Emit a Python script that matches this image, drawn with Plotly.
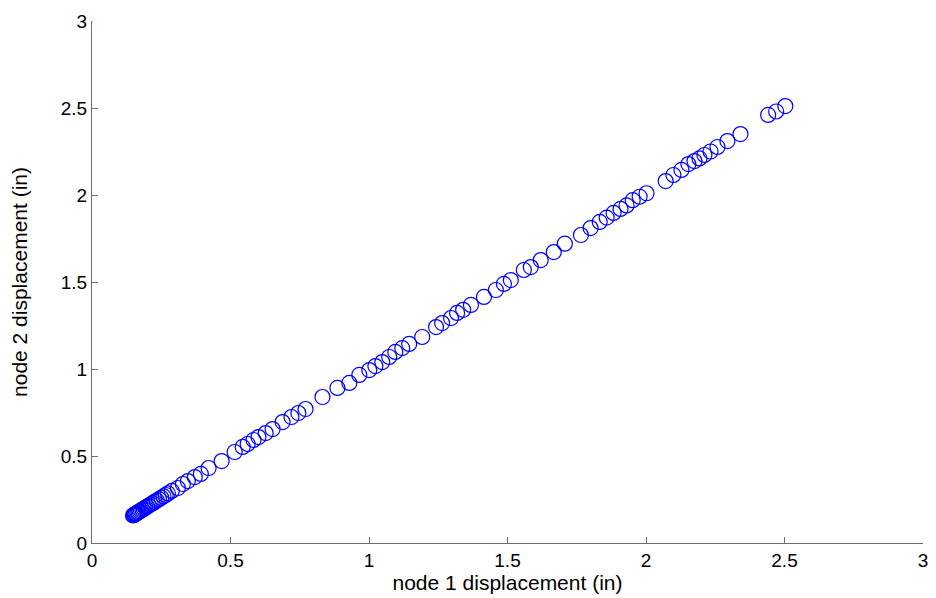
import plotly.graph_objects as go

node1 = [0.148, 0.151, 0.154, 0.157, 0.160, 0.164, 0.168, 0.172, 0.177, 0.182,
         0.187, 0.193, 0.199, 0.205, 0.212, 0.219, 0.226, 0.234, 0.242, 0.250,
         0.258, 0.266, 0.274, 0.288, 0.310, 0.328, 0.346, 0.371, 0.393, 0.421,
         0.468, 0.515, 0.544, 0.562, 0.583, 0.601, 0.627, 0.652, 0.688, 0.720,
         0.745, 0.771, 0.832, 0.886, 0.929, 0.965, 1.001, 1.023, 1.048, 1.073,
         1.095, 1.120, 1.145, 1.192, 1.242, 1.264, 1.296, 1.318, 1.340, 1.368,
         1.415, 1.458, 1.487, 1.512, 1.559, 1.584, 1.620, 1.667, 1.707, 1.765,
         1.800, 1.833, 1.858, 1.883, 1.908, 1.930, 1.952, 1.977, 2.002, 2.071,
         2.099, 2.128, 2.153, 2.175, 2.193, 2.211, 2.233, 2.258, 2.294, 2.341,
         2.441, 2.470, 2.503]
node2 = [0.158, 0.161, 0.164, 0.167, 0.170, 0.174, 0.178, 0.182, 0.187, 0.192,
         0.197, 0.203, 0.209, 0.215, 0.222, 0.229, 0.236, 0.244, 0.252, 0.260,
         0.268, 0.276, 0.285, 0.299, 0.316, 0.339, 0.356, 0.379, 0.397, 0.431,
         0.471, 0.523, 0.552, 0.569, 0.592, 0.609, 0.632, 0.655, 0.695, 0.724,
         0.747, 0.770, 0.839, 0.891, 0.920, 0.966, 0.994, 1.017, 1.040, 1.069,
         1.098, 1.120, 1.144, 1.184, 1.241, 1.264, 1.293, 1.322, 1.340, 1.368,
         1.414, 1.454, 1.489, 1.511, 1.569, 1.586, 1.626, 1.672, 1.720, 1.770,
         1.810, 1.845, 1.870, 1.897, 1.920, 1.940, 1.970, 1.990, 2.010, 2.080,
         2.115, 2.144, 2.178, 2.195, 2.210, 2.230, 2.250, 2.276, 2.310, 2.350,
         2.460, 2.480, 2.511]

x_ticks = [0, 0.5, 1, 1.5, 2, 2.5, 3]
y_ticks = [0, 0.5, 1, 1.5, 2, 2.5, 3]
x_title = "node 1 displacement (in)"
y_title = "node 2 displacement (in)"

fig = go.Figure()
fig.add_trace(go.Scatter(
    x=node1, y=node2, mode="markers",
    marker=dict(symbol="circle-open", size=15, color="#0000ff", line=dict(width=1.2, color="#0000ff")),
    showlegend=False, cliponaxis=False,
))

font = dict(family="Liberation Sans, Arial, sans-serif", color="#000000")
axis_common = dict(
    showgrid=False, zeroline=False, showline=True, linecolor="#6e6e6e", linewidth=1,
    ticks="inside", ticklen=6, tickcolor="#6e6e6e", tickwidth=1,
    tickfont=dict(size=19, **font), mirror=False, automargin=False,
)
# page body has an 8px margin, so the figure is shifted by 8px
fig.update_layout(
    width=928, height=590,
    margin=dict(l=84, r=13, t=13, b=55),
    paper_bgcolor="white", plot_bgcolor="white",
    xaxis=dict(range=[0, 3], tickvals=x_ticks, ticktext=[f"{v:g}" for v in x_ticks],
               title=dict(text=x_title, font=dict(size=21, **font), standoff=2), **axis_common),
    yaxis=dict(range=[0, 3], tickvals=y_ticks, ticktext=[f"{v:g}" for v in y_ticks],
               title=dict(text=y_title, font=dict(size=21, **font), standoff=30), **axis_common),
)
fig.write_html("out.html")
